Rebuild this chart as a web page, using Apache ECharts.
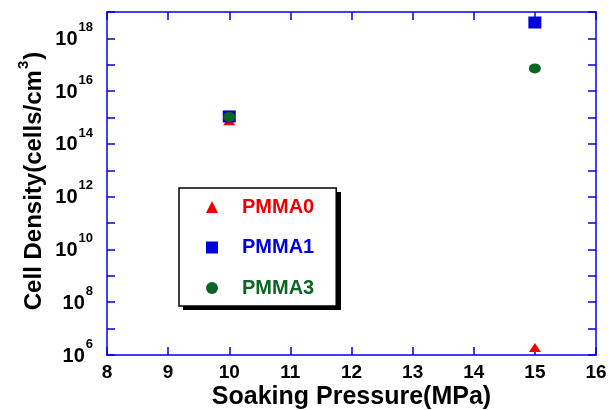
<!DOCTYPE html>
<html>
<head>
<meta charset="utf-8">
<script src="https://cdn.jsdelivr.net/npm/echarts@6/dist/echarts.min.js"></script>
<style>html,body{margin:0;padding:0;background:#fff}#c{width:616px;height:410px}</style>
</head>
<body>
<div id="c"></div>
<script>
const pressure = [10, 15];
const pmma0 = [7.6e14, 1.93e6];
const pmma1 = [1.1e15, 4.0e18];
const pmma3 = [1.05e15, 7.3e16];
const seriesNames = ['PMMA0', 'PMMA1', 'PMMA3'];
const xTitle = 'Soaking Pressure(MPa)';
const yTitleMain = 'Cell Density(cells/cm';
const yTitleSup = '3';

const RED = '#ee0000', BLUE = '#0000dd', GREEN = '#0a6622', AXIS = '#0000e6';
const FONT = 'Liberation Sans, Arial, sans-serif';

function pts(vals) { return pressure.map((p, i) => [p, vals[i]]); }

const chart = echarts.init(document.getElementById('c'), null, { renderer: 'canvas' });
const axisLineStyle = { color: AXIS, width: 1.5 };
const tick = { show: true, inside: true, length: 8, lineStyle: { color: AXIS, width: 1.5 } };

chart.setOption({
  animation: false,
  backgroundColor: '#fff',
  grid: { left: 107, right: 20, top: 12, bottom: 55, containLabel: false, outerBoundsMode: 'none' },
  graphic: [{
    type: 'rect', z: 0, silent: true,
    shape: { x: 183, y: 192, width: 158, height: 118 },
    style: { fill: '#000' }
  }],
  xAxis: [{
    type: 'value', min: 8, max: 16, interval: 1, position: 'bottom',
    axisLine: { onZero: false, lineStyle: axisLineStyle },
    axisTick: tick,
    splitLine: { show: false },
    axisLabel: { color: '#000', fontSize: 19, fontWeight: 'bold', fontFamily: FONT, margin: 8 },
    name: xTitle, nameLocation: 'middle', nameGap: 30, nameMoveOverlap: false,
    nameTextStyle: { color: '#000', fontSize: 25, fontWeight: 'bold', fontFamily: FONT }
  }, {
    type: 'value', min: 8, max: 16, interval: 1, position: 'top',
    axisLine: { onZero: false, lineStyle: axisLineStyle },
    axisTick: tick, axisLabel: { show: false }, splitLine: { show: false }
  }],
  yAxis: [{
    type: 'log', logBase: 10, min: 1e6, max: 1e19, interval: 1, position: 'left',
    axisLine: { onZero: false, lineStyle: axisLineStyle },
    axisTick: tick,
    splitLine: { show: false },
    minorTick: { show: false },
    axisLabel: {
      margin: 14,
      formatter: function (v) {
        const e = Math.round(Math.log10(v));
        if (e % 2 !== 0) return '';
        return '{b|10}{s|' + e + '}';
      },
      rich: {
        b: { fontSize: 20, fontWeight: 'bold', color: '#000', fontFamily: FONT, lineHeight: 30, padding: [2, 0, 0, 0] },
        s: { fontSize: 13, fontWeight: 'bold', color: '#000', fontFamily: FONT, lineHeight: 10, padding: [0, 0, 22, 1] }
      }
    },
    name: '{m|' + yTitleMain + '}{s|' + yTitleSup + '}{m|)}',
    nameLocation: 'middle', nameRotate: 90, nameGap: 58, nameMoveOverlap: false,
    nameTextStyle: {
      padding: [0, 0, 0, 5],
      rich: {
        m: { fontSize: 24, fontWeight: 'bold', color: '#000', fontFamily: FONT, lineHeight: 30 },
        s: { fontSize: 15, fontWeight: 'bold', color: '#000', fontFamily: FONT, lineHeight: 10, padding: [0, 1, 20, 1] }
      }
    }
  }, {
    type: 'log', logBase: 10, min: 1e6, max: 1e19, interval: 1, position: 'right',
    axisLine: { onZero: false, lineStyle: axisLineStyle },
    axisTick: tick, axisLabel: { show: false }, splitLine: { show: false }, minorTick: { show: false }
  }],
  legend: {
    orient: 'vertical', left: 179, top: 188,
    padding: [9, 22, 8, 27],
    itemWidth: 12, itemHeight: 12, itemGap: 20.5,
    backgroundColor: '#fff', borderColor: '#000', borderWidth: 1.5,
    textStyle: { fontSize: 20, fontWeight: 'bold', fontFamily: FONT, padding: [0, 0, 0, 19] },
    data: [
      { name: seriesNames[0], textStyle: { color: RED } },
      { name: seriesNames[1], textStyle: { color: BLUE } },
      { name: seriesNames[2], textStyle: { color: GREEN } }
    ]
  },
  series: [
    { name: seriesNames[0], type: 'scatter', symbol: 'triangle', symbolSize: [12, 9], itemStyle: { color: RED, opacity: 1 }, data: pts(pmma0) },
    { name: seriesNames[1], type: 'scatter', symbol: 'rect', symbolSize: [13, 12], itemStyle: { color: BLUE, opacity: 1 }, data: pts(pmma1) },
    { name: seriesNames[2], type: 'scatter', symbol: 'circle', symbolSize: [12, 10], itemStyle: { color: GREEN, opacity: 1 }, data: pts(pmma3) }
  ]
});
</script>
</body>
</html>
